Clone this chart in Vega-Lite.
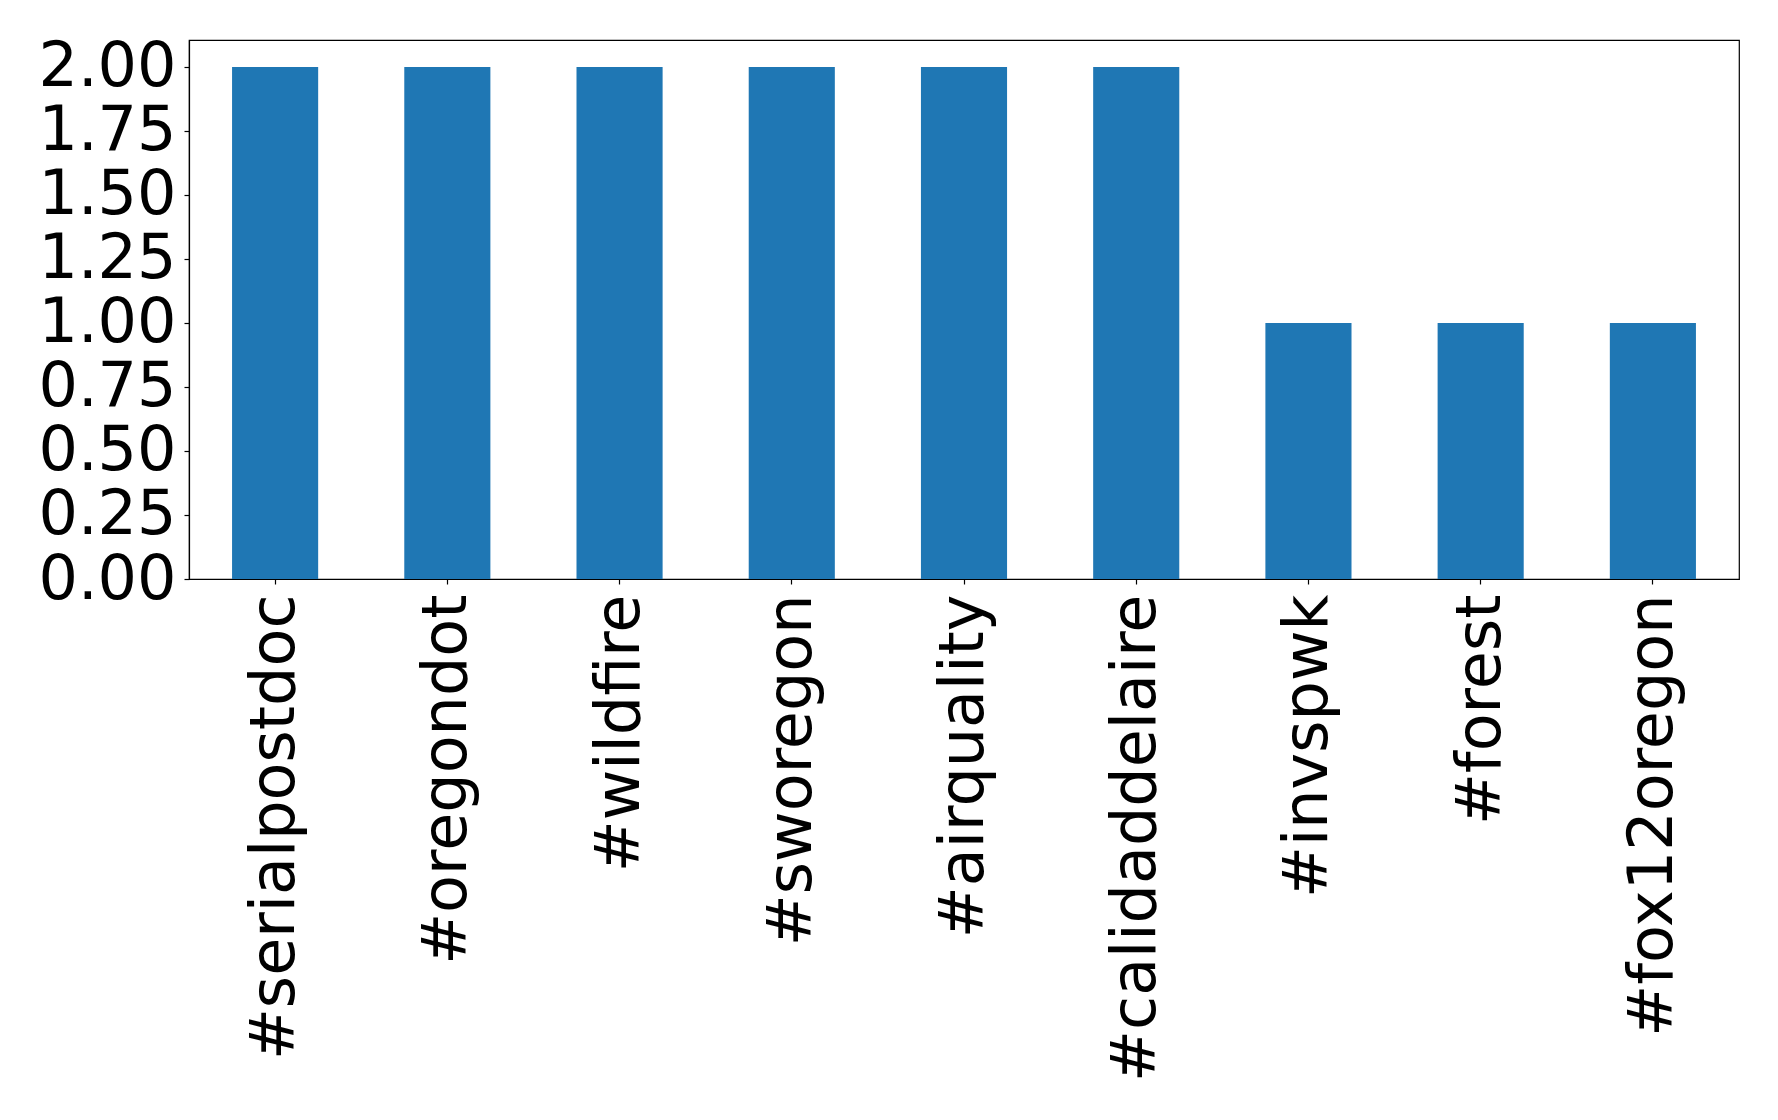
{
  "$schema": "https://vega.github.io/schema/vega-lite/v6.json",
  "autosize": {"type": "none"},
  "width": 1550,
  "height": 539,
  "padding": {"left": 189, "top": 40, "right": 39, "bottom": 541},
  "background": "white",
  "config": {
    "view": {"stroke": "black", "strokeWidth": 1.2},
    "font": "DejaVu Sans",
    "axis": {
      "labelFont": "DejaVu Sans",
      "labelFontSize": 62,
      "labelColor": "black",
      "domainColor": "black",
      "domainWidth": 1.2,
      "tickColor": "black",
      "tickWidth": 1.2,
      "tickSize": 5,
      "grid": false,
      "title": null
    }
  },
  "data": {
    "values": [
      {"hashtag": "#serialpostdoc", "count": 2},
      {"hashtag": "#oregondot", "count": 2},
      {"hashtag": "#wildfire", "count": 2},
      {"hashtag": "#sworegon", "count": 2},
      {"hashtag": "#airquality", "count": 2},
      {"hashtag": "#calidaddelaire", "count": 2},
      {"hashtag": "#invspwk", "count": 1},
      {"hashtag": "#forest", "count": 1},
      {"hashtag": "#fox12oregon", "count": 1}
    ]
  },
  "mark": {"type": "bar", "color": "#1f77b4"},
  "encoding": {
    "x": {
      "field": "hashtag",
      "type": "nominal",
      "sort": null,
      "scale": {"paddingInner": 0.5, "paddingOuter": 0.25},
      "axis": {"labelAngle": -90, "labelPadding": 10, "labelAlign": "right", "labelBaseline": "middle", "labelLimit": 0}
    },
    "y": {
      "field": "count",
      "type": "quantitative",
      "scale": {"domain": [0, 2.105], "nice": false, "zero": true},
      "axis": {"values": [0, 0.25, 0.5, 0.75, 1, 1.25, 1.5, 1.75, 2], "format": ".2f", "labelPadding": 8, "labelFlush": false, "labelOverlap": false}
    }
  }
}
